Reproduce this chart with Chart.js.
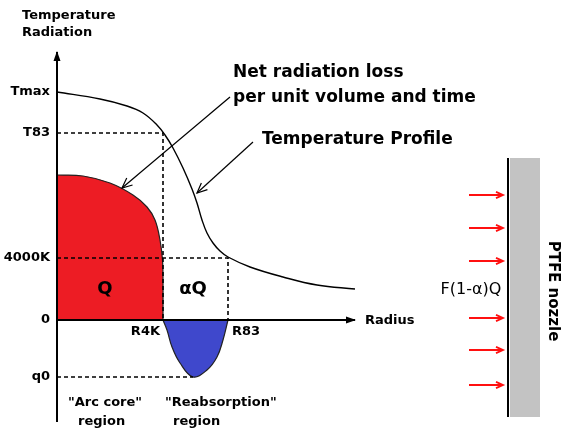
<!DOCTYPE html>
<html><head><meta charset="utf-8">
<script src="https://cdn.jsdelivr.net/npm/chart.js@4/dist/chart.umd.min.js"></script>
<style>html,body{margin:0;padding:0;background:#fff}#wrap{width:561px;height:432px;position:relative}</style>
</head><body><div id="wrap"><canvas id="c"></canvas></div>
<script>
// ---- data (arbitrary schematic units) ----
const yTickValues = [22.8, 18.7, 6.2, 0, -5.7];
const yTickLabels = ['Tmax', 'T83', '4000K', '0', 'q0'];
const xMarkValues = [10.6, 17.1];
const xMarkLabels = ['R4K', 'R83'];

const tempRadius = [0, 4.3, 7.0, 8.6, 10.0, 10.8, 11.6, 12.6, 13.5, 14.0, 14.5, 15.0, 15.6, 16.3, 17.1, 19.3, 22.6, 26.0, 29.8];
const tempValue  = [22.8, 22.1, 21.4, 20.7, 19.5, 18.5, 17.2, 15.2, 13.1, 11.7, 10.0, 8.7, 7.7, 6.9, 6.3, 5.3, 4.3, 3.5, 3.1];

const coreRadius = [0, 2.6, 5.3, 7.6, 9.0, 9.8, 10.3, 10.55, 10.6, 10.6];
const coreLoss   = [14.5, 14.4, 13.7, 12.5, 11.3, 10.0, 8.0, 6.0, 4.0, 0];

const reabsRadius = [10.6, 11.0, 11.5, 12.3, 13.6, 15.0, 16.0, 16.6, 17.1];
const reabsGain   = [0, -1.0, -2.7, -4.3, -5.7, -5.0, -3.7, -2.0, 0];

const q0Radius = 13.6;
const axisTop = 26.8, axisBottom = -10.2, axisEnd = 29.8;

const fluxArrowLevels = [12.5, 9.2, 5.9, 0.2, -3.0, -6.5];
const fluxArrowFrom = 41.2, fluxArrowTo = 44.6;
const nozzleFrom = 45.3, nozzleTo = 48.3, nozzleTop = 16.2, nozzleBottom = -9.7, nozzleWall = 45.1;

const netArrow = [[17.3, 22.3], [6.5, 13.2]];
const profileArrow = [[19.6, 17.8], [14.0, 12.7]];

// ---- build datasets ----
const pts = (xs, ys) => xs.map((x, i) => ({x, y: ys[i]}));
const FONT = 'DejaVu Sans';
const base = {pointRadius: 0, clip: false, fill: false, showLine: true};
const datasets = [];

datasets.push({...base, order: 10, data: [{x: nozzleFrom, y: nozzleTop}, {x: nozzleTo, y: nozzleTop}],
  fill: {value: nozzleBottom}, backgroundColor: '#c3c3c3', borderWidth: 0});
datasets.push({...base, order: 10, data: pts(coreRadius, coreLoss), fill: 'origin',
  backgroundColor: '#ed1c24', borderColor: '#222', borderWidth: 1.2, tension: 0.4});
datasets.push({...base, order: 10, data: pts(reabsRadius, reabsGain), fill: 'origin',
  backgroundColor: '#3f48cc', borderColor: '#222', borderWidth: 1.2, tension: 0.4});

const dashed = {...base, order: 5, borderColor: '#000', borderWidth: 1.6, borderDash: [4, 3]};
datasets.push({...dashed, data: [{x: 0, y: yTickValues[1]}, {x: xMarkValues[0], y: yTickValues[1]}, {x: xMarkValues[0], y: 0}]});
datasets.push({...dashed, data: [{x: 0, y: yTickValues[2]}, {x: xMarkValues[1], y: yTickValues[2]}, {x: xMarkValues[1], y: 0}]});
datasets.push({...dashed, data: [{x: 0, y: yTickValues[4]}, {x: q0Radius, y: yTickValues[4]}]});

datasets.push({...base, order: 1, data: pts(tempRadius, tempValue), borderColor: '#000', borderWidth: 1.4, tension: 0.4});

datasets.push({...base, order: 0, data: [{x: 0, y: axisBottom}, {x: 0, y: axisTop}], borderColor: '#000', borderWidth: 2, arrowHead: 'filled'});
datasets.push({...base, order: 0, data: [{x: 0, y: 0}, {x: axisEnd, y: 0}], borderColor: '#000', borderWidth: 2, arrowHead: 'filled'});

datasets.push({...base, order: 0, data: netArrow.map(p => ({x: p[0], y: p[1]})), borderColor: '#000', borderWidth: 1.2, arrowHead: 'open', headLen: 10});
datasets.push({...base, order: 0, data: profileArrow.map(p => ({x: p[0], y: p[1]})), borderColor: '#000', borderWidth: 1.2, arrowHead: 'open', headLen: 10});

fluxArrowLevels.forEach(lv => datasets.push({...base, order: 0, data: [{x: fluxArrowFrom, y: lv}, {x: fluxArrowTo, y: lv}],
  borderColor: '#ff1010', borderWidth: 1.8, arrowHead: 'open', headLen: 7}));

datasets.push({...base, order: 0, data: [{x: nozzleWall, y: nozzleTop}, {x: nozzleWall, y: nozzleBottom}], borderColor: '#000', borderWidth: 2});

// ---- text layout ----
const texts = [
  {t: 'Temperature', x: -3.5, y: 30.4, size: 13, bold: true, align: 'left'},
  {t: 'Radiation', x: -3.5, y: 28.7, size: 13, bold: true, align: 'left'},
  {t: 'Net radiation loss', x: 17.6, y: 24.7, size: 17, bold: true, align: 'left'},
  {t: 'per unit volume and time', x: 17.6, y: 22.2, size: 17, bold: true, align: 'left'},
  {t: 'Temperature Profile', x: 20.5, y: 18.0, size: 17, bold: true, align: 'left'},
  {t: 'Q', x: 4.8, y: 3.1, size: 18, bold: true, align: 'center'},
  {t: 'αQ', x: 13.6, y: 3.1, size: 18, bold: true, align: 'center'},
  {t: xMarkLabels[0], x: xMarkValues[0] - 0.3, y: -1.2, size: 13, bold: true, align: 'right'},
  {t: xMarkLabels[1], x: xMarkValues[1] + 0.4, y: -1.2, size: 13, bold: true, align: 'left'},
  {t: 'Radius', x: 30.8, y: -0.1, size: 13, bold: true, align: 'left'},
  {t: '"Arc core"', x: 1.1, y: -8.3, size: 13, bold: true, align: 'left'},
  {t: 'region', x: 2.1, y: -10.2, size: 13, bold: true, align: 'left'},
  {t: '"Reabsorption"', x: 10.8, y: -8.3, size: 13, bold: true, align: 'left'},
  {t: 'region', x: 11.6, y: -10.2, size: 13, bold: true, align: 'left'},
  {t: 'F(1-α)Q', x: 41.4, y: 3.0, size: 16, bold: false, align: 'center'},
  {t: 'PTFE nozzle', x: 49.6, y: 2.9, size: 15, bold: true, align: 'center', rotate: Math.PI / 2}
];

const arrowPlugin = {
  id: 'arrowHeads',
  afterDatasetsDraw(chart) {
    const ctx = chart.ctx;
    chart.data.datasets.forEach((ds, i) => {
      if (!ds.arrowHead) return;
      const m = chart.getDatasetMeta(i).data;
      const a = m[m.length - 2], b = m[m.length - 1];
      const ang = Math.atan2(b.y - a.y, b.x - a.x);
      ctx.save();
      ctx.translate(b.x, b.y); ctx.rotate(ang);
      ctx.strokeStyle = ds.borderColor; ctx.fillStyle = ds.borderColor;
      ctx.lineWidth = ds.borderWidth;
      if (ds.arrowHead === 'filled') {
        ctx.beginPath(); ctx.moveTo(1, 0); ctx.lineTo(-9, -3.5); ctx.lineTo(-9, 3.5); ctx.closePath(); ctx.fill();
      } else {
        const L = ds.headLen || 8;
        ctx.beginPath(); ctx.moveTo(-L, -L * 0.45); ctx.lineTo(0, 0); ctx.lineTo(-L, L * 0.45); ctx.stroke();
      }
      ctx.restore();
    });
  }
};

const textPlugin = {
  id: 'texts',
  afterDraw(chart) {
    const ctx = chart.ctx, xs = chart.scales.x, ys = chart.scales.y;
    texts.forEach(o => {
      ctx.save();
      ctx.fillStyle = '#000';
      ctx.font = (o.bold ? 'bold ' : '') + o.size + 'px "' + FONT + '"';
      ctx.textBaseline = 'middle';
      ctx.textAlign = o.align;
      ctx.translate(xs.getPixelForValue(o.x), ys.getPixelForValue(o.y));
      if (o.rotate) ctx.rotate(o.rotate);
      ctx.fillText(o.t, 0, 0);
      ctx.restore();
    });
  }
};

new Chart(document.getElementById('c'), {
  type: 'scatter',
  data: {datasets},
  options: {
    responsive: true, maintainAspectRatio: false, animation: false,
    layout: {padding: 0},
    plugins: {legend: {display: false}, tooltip: {enabled: false}},
    scales: {
      x: {type: 'linear', display: false, min: 0, max: 50.4},
      y: {type: 'linear', position: 'left', min: -11.2, max: 32,
        afterFit: s => { s.width = 57; s.paddingTop = 0; s.paddingBottom = 0; },
        afterBuildTicks: s => { s.ticks = yTickValues.map(v => ({value: v})); },
        grid: {display: false, drawTicks: false}, border: {display: false},
        ticks: {autoSkip: false, padding: 7, color: '#000',
          font: {family: FONT, size: 13, weight: 'bold'},
          callback: (v, i) => yTickLabels[i]}
      }
    }
  },
  plugins: [arrowPlugin, textPlugin]
});
</script></body></html>
